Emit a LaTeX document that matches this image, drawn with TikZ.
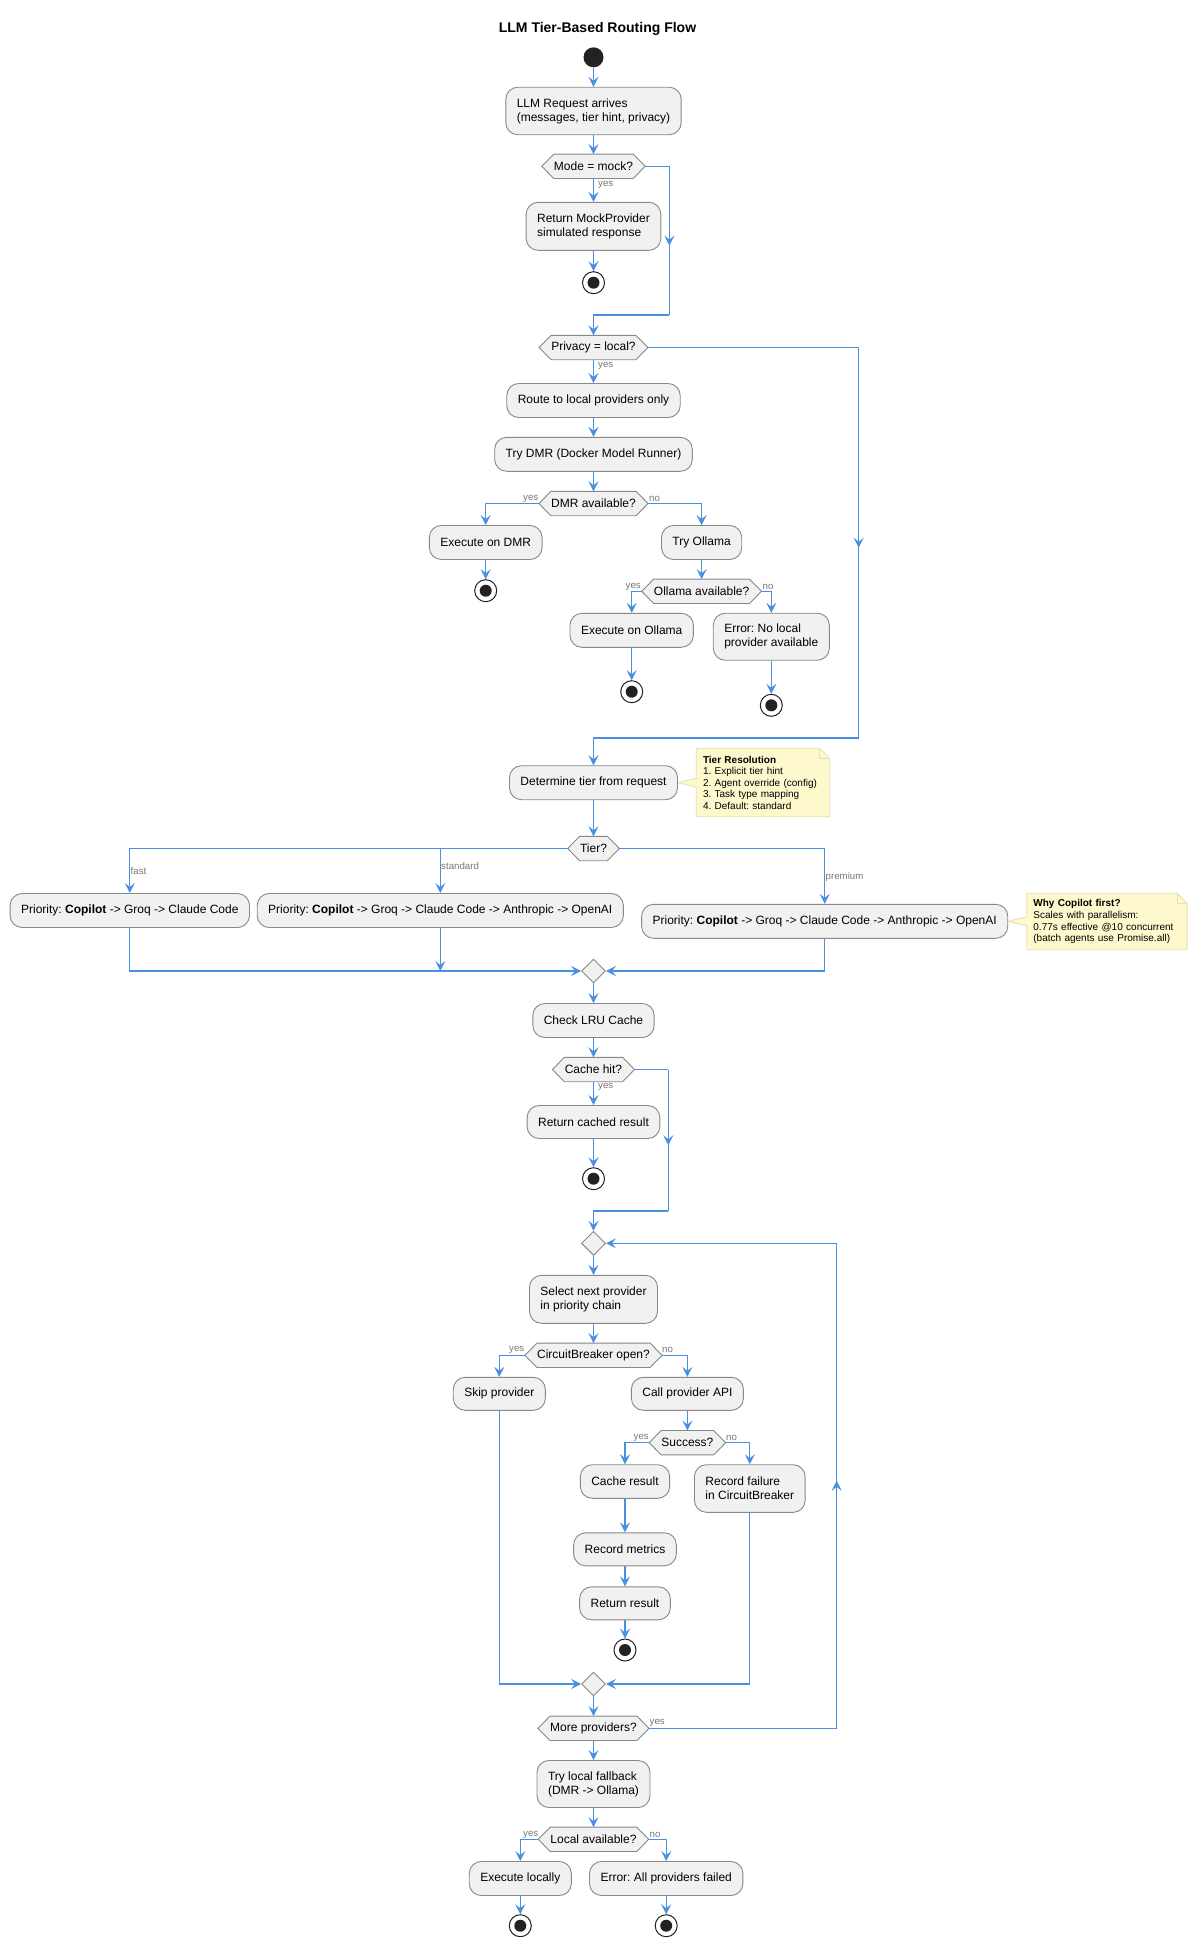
\documentclass[tikz,border=0pt]{standalone}
\usepackage{fontspec}
\setmainfont{Liberation Sans}
\usetikzlibrary{arrows.meta,shapes.geometric,backgrounds,decorations.markings,calc}
\frenchspacing
\definecolor{flowblue}{HTML}{4A90E2}
\definecolor{boxfill}{HTML}{F1F1F1}
\definecolor{boxline}{HTML}{888888}
\definecolor{darkdot}{HTML}{222222}
\definecolor{lblgray}{HTML}{777777}
\definecolor{notefill}{HTML}{FEF8CD}
\definecolor{noteline}{HTML}{E6DFAF}
\newcommand\fAct{\fontsize{12}{13.8}\selectfont}
\newcommand\fLbl{\fontsize{9.7}{11}\selectfont}
\newcommand\fNoteA{\fontsize{10}{11.5}\selectfont}
\newcommand\fNoteB{\fontsize{10}{11.9}\selectfont}
\newcommand\fTitle{\fontsize{14}{16}\selectfont\bfseries}
\newcommand\hexbg[1]{%
\begin{pgfonlayer}{background}
\path[draw=boxline, fill=boxfill, line width=0.9pt] (#1.west) -- ([xshift=12pt]#1.north west) -- ([xshift=-12pt]#1.north east) -- (#1.east) -- ([xshift=-12pt]#1.south east) -- ([xshift=12pt]#1.south west) -- cycle;
\end{pgfonlayer}}
\newcommand\notebg[2]{%
\begin{pgfonlayer}{background}
\path[draw=noteline, fill=notefill, line width=0.8pt] (#1.north west) -- ([xshift=-10pt]#1.north east) -- ([yshift=-10pt]#1.north east) -- (#1.south east) -- (#1.south west) -- ($(#1.west |- #2.east)+(0,4.5)$) -- (#2.east) -- ($(#1.west |- #2.east)+(0,-4.5)$) -- cycle;
\draw[noteline, line width=0.8pt] ([xshift=-10pt]#1.north east) -- ([xshift=-10pt,yshift=-10pt]#1.north east) -- ([yshift=-10pt]#1.north east);
\end{pgfonlayer}}
\begin{document}
\begin{tikzpicture}[x=1pt,y=-1pt,
  act/.style={draw=boxline, fill=boxfill, rounded corners=12pt, line width=0.9pt, font=\fAct, inner xsep=11pt, inner ysep=0pt, minimum height=34pt, align=left, text=black},
  dec/.style={inner xsep=12pt, inner ysep=0pt, minimum height=24pt, font=\fAct, text=black},
  mrg/.style={diamond, draw=boxline, fill=boxfill, minimum width=24pt, minimum height=24pt, inner sep=0pt, line width=0.9pt},
  startn/.style={circle, fill=darkdot, minimum size=20pt, inner sep=0pt},
  endn/.style={circle, draw=darkdot, fill=white, line width=1pt, minimum size=22pt, inner sep=0pt, path picture={\fill[darkdot] (path picture bounding box.center) circle (6pt);}},
  flow/.style={color=flowblue, line width=1.1pt},
  arr/.style={flow, -{Stealth[length=10pt,width=10pt,inset=4pt]}},
  midarr/.style={flow, postaction={decorate, decoration={markings, mark=at position 0.5 with {\arrow[xshift=5pt]{Stealth[length=10pt,width=10pt,inset=4pt]}}}}},
  lbl/.style={font=\fLbl, text=lblgray, inner sep=0pt},
  notetext/.style={anchor=north west, inner xsep=6.5pt, inner ysep=0pt, align=left, text width=#1, text=black}
]
\begin{pgfonlayer}{background}\fill[white] (0,0) rectangle (1197,1947);\end{pgfonlayer}
\useasboundingbox (0,0) rectangle (1197,1947);

\node[font=\fTitle] (title) at (597.5,29) {LLM Tier-Based Routing Flow};
\node[startn] (start) at (593.5,57.3) {};
\node[act, minimum width=175pt, minimum height=47.5pt] (req) at (593.5,111) {LLM Request arrives\\(messages, tier hint, privacy)};
\node[dec, minimum width=102.3pt] (mode) at (593.5,166.3) {Mode = mock?}; \hexbg{mode}
\node[act, minimum width=132pt, minimum height=48pt] (mock) at (593.5,226.3) {Return MockProvider\\simulated response};
\node[endn] (end1) at (593.5,282.7) {};
\coordinate (b1) at (669.4,315);
\node[dec, minimum width=108pt] (privacy) at (593.5,347.5) {Privacy = local?}; \hexbg{privacy}
\node[act, minimum width=172pt] (route) at (593.5,400.5) {Route to local providers only};
\node[act, minimum width=196pt] (dmr) at (593.5,454.3) {Try DMR (Docker Model Runner)};
\node[dec, minimum width=107.3pt] (dmrq) at (593.5,503.5) {DMR available?}; \hexbg{dmrq}
\node[act, minimum width=111pt] (exdmr) at (485.7,542.5) {Execute on DMR};
\node[endn] (end2) at (485.7,590.7) {};
\node[act, minimum width=78pt] (tryoll) at (701.6,542.5) {Try Ollama};
\node[dec, minimum width=118.7pt] (ollq) at (701.6,591.3) {Ollama available?}; \hexbg{ollq}
\node[act, minimum width=121pt] (exoll) at (631.7,630.3) {Execute on Ollama};
\node[endn] (end3) at (631.7,691.7) {};
\node[act, minimum width=114pt, minimum height=47pt] (errloc) at (771.3,636.7) {Error: No local\\provider available};
\node[endn] (end4) at (771.3,705.3) {};
\coordinate (b2) at (858.7,738);
\node[act, minimum width=165pt] (determine) at (593.5,782.7) {Determine tier from request};
\node[notetext=120pt, font=\fNoteA, minimum height=68pt] (note1) at (696.3,748.3) {\textbf{Tier Resolution}\\1. Explicit tier hint\\2. Agent override (config)\\3. Task type mapping\\4. Default: standard};
\notebg{note1}{determine}
\node[dec, minimum width=51.3pt] (tier) at (593.5,848.5) {Tier?}; \hexbg{tier}
\node[act, minimum width=237pt] (fast) at (129.8,910.5) {Priority: \textbf{Copilot} -> Groq -> Claude Code};
\node[act, minimum width=363pt] (standard) at (440.3,910.5) {Priority: \textbf{Copilot} -> Groq -> Claude Code -> Anthropic -> OpenAI};
\node[act, minimum width=364pt] (premium) at (824.7,921.3) {Priority: \textbf{Copilot} -> Groq -> Claude Code -> Anthropic -> OpenAI};
\node[notetext=147pt, font=\fNoteB, minimum height=56pt] (note2) at (1026.7,893.3) {\textbf{Why Copilot first?}\\Scales with parallelism:\\0.77s effective @10 concurrent\\(batch agents use Promise.all)};
\notebg{note2}{premium}
\node[mrg] (m1) at (593.5,971) {};
\node[act, minimum width=120pt] (lru) at (593.5,1020.5) {Check LRU Cache};
\node[dec, minimum width=81.7pt] (cacheq) at (593.5,1069.5) {Cache hit?}; \hexbg{cacheq}
\node[act, minimum width=130pt, minimum height=33pt] (cached) at (593.5,1122) {Return cached result};
\node[endn] (end5) at (593.5,1178.7) {};
\coordinate (b3) at (668.3,1211);
\node[mrg] (m2) at (593.5,1243.3) {};
\node[act, minimum width=126pt, minimum height=48pt] (select) at (593.5,1299.3) {Select next provider\\in priority chain};
\node[dec, minimum width=135pt] (cbq) at (593.5,1355.3) {CircuitBreaker open?}; \hexbg{cbq}
\node[act, minimum width=90pt, minimum height=33pt] (skip) at (499.3,1393.8) {Skip provider};
\node[act, minimum width=110pt, minimum height=33pt] (call) at (687.4,1393.8) {Call provider API};
\node[dec, minimum width=75pt] (succq) at (687.4,1442.7) {Success?}; \hexbg{succq}
\node[act, minimum width=86.6pt, minimum height=33.6pt] (cacheres) at (625,1481.5) {Cache result};
\node[act, minimum width=108.6pt, minimum height=47.6pt] (recfail) at (749.8,1488.5) {Record failure\\in CircuitBreaker};
\node[act, minimum width=101pt, minimum height=33pt] (metrics) at (625,1549.3) {Record metrics};
\node[act, minimum width=89pt, minimum height=33pt] (retres) at (625,1603.3) {Return result};
\node[endn] (end6) at (625,1650) {};
\node[mrg] (m3) at (593.5,1684) {};
\node[dec, minimum width=110pt] (moreq) at (593.5,1728.3) {More providers?}; \hexbg{moreq}
\coordinate (b4) at (836.7,1728.3);
\node[act, minimum width=111pt, minimum height=47pt] (fallback) at (593.5,1784) {Try local fallback\\(DMR -> Ollama)};
\node[dec, minimum width=109pt] (localq) at (593.5,1839.3) {Local available?}; \hexbg{localq}
\node[act, minimum width=100pt] (exloc) at (520.3,1878.5) {Execute locally};
\node[act, minimum width=152pt] (errall) at (666.2,1878.5) {Error: All providers failed};
\node[endn] (end7) at (520.3,1925.7) {};
\node[endn] (end8) at (666.2,1925.7) {};

% connectors
\draw[arr] (start.south) -- (req.north);
\draw[arr] (req.south) -- (mode.north);
\draw[arr] (mode.south) -- (mock.north);
\draw[arr] (mock.south) -- (end1.north);
\draw[flow] (mode.east) -- (mode.east -| b1);
\draw[midarr] (mode.east -| b1) -- (b1);
\draw[arr] (b1) -| (privacy.north);
\draw[arr] (privacy.south) -- (route.north);
\draw[arr] (route.south) -- (dmr.north);
\draw[arr] (dmr.south) -- (dmrq.north);
\draw[arr] (dmrq.west) -| (exdmr.north);
\draw[arr] (exdmr.south) -- (end2.north);
\draw[arr] (dmrq.east) -| (tryoll.north);
\draw[arr] (tryoll.south) -- (ollq.north);
\draw[arr] (ollq.west) -| (exoll.north);
\draw[arr] (exoll.south) -- (end3.north);
\draw[arr] (ollq.east) -| (errloc.north);
\draw[arr] (errloc.south) -- (end4.north);
\draw[flow] (privacy.east) -- (privacy.east -| b2);
\draw[midarr] (privacy.east -| b2) -- (b2);
\draw[arr] (b2) -| (determine.north);
\draw[arr] (determine.south) -- (tier.north);
\draw[arr] (tier.west) -| (fast.north);
\draw[arr] (tier.west -| standard.north) -- (standard.north);
\draw[arr] (tier.east) -| (premium.north);
\draw[arr] (fast.south) |- (m1.west);
\draw[arr] (standard.south) -- (standard.south |- m1.west);
\draw[arr] (premium.south) |- (m1.east);
\draw[arr] (m1.south) -- (lru.north);
\draw[arr] (lru.south) -- (cacheq.north);
\draw[arr] (cacheq.south) -- (cached.north);
\draw[arr] (cached.south) -- (end5.north);
\draw[flow] (cacheq.east) -- (cacheq.east -| b3);
\draw[midarr] (cacheq.east -| b3) -- (b3);
\draw[arr] (b3) -| (m2.north);
\draw[arr] (m2.south) -- (select.north);
\draw[arr] (select.south) -- (cbq.north);
\draw[arr] (cbq.west) -| (skip.north);
\draw[arr] (cbq.east) -| (call.north);
\draw[arr] (call.south) -- (succq.north);
\draw[arr] (succq.west) -| (cacheres.north);
\draw[arr] (succq.east) -| (recfail.north);
\draw[arr] (cacheres.south) -- (metrics.north);
\draw[arr] (metrics.south) -- (retres.north);
\draw[arr] (retres.south) -- (end6.north);
\draw[arr] (skip.south) |- (m3.west);
\draw[arr] (recfail.south) |- (m3.east);
\draw[arr] (m3.south) -- (moreq.north);
\draw[flow] (moreq.east) -- (b4);
\draw[midarr] (b4) -- (b4 |- m2.east);
\draw[arr] (b4 |- m2.east) -- (m2.east);
\draw[arr] (moreq.south) -- (fallback.north);
\draw[arr] (fallback.south) -- (localq.north);
\draw[arr] (localq.west) -| (exloc.north);
\draw[arr] (localq.east) -| (errall.north);
\draw[arr] (exloc.south) -- (end7.north);
\draw[arr] (errall.south) -- (end8.north);

% labels
\node[lbl, anchor=west] (l1) at (598,185) {yes};
\node[lbl, anchor=west] (l2) at (598,366) {yes};
\node[lbl, anchor=east] (l3) at (538.5,498.5) {yes};
\node[lbl, anchor=west] (l4) at (649,498.5) {no};
\node[lbl, anchor=east] (l5) at (641,586.5) {yes};
\node[lbl, anchor=west] (l6) at (762.5,586.5) {no};
\node[lbl, anchor=west] (l7) at (130.5,870.7) {fast};
\node[lbl, anchor=west] (l8) at (441,865.7) {standard};
\node[lbl, anchor=west] (l9) at (825.5,876.7) {premium};
\node[lbl, anchor=west] (l10) at (598,1087) {yes};
\node[lbl, anchor=east] (l11) at (524.5,1350) {yes};
\node[lbl, anchor=west] (l12) at (662,1350) {no};
\node[lbl, anchor=east] (l13) at (649,1438) {yes};
\node[lbl, anchor=west] (l14) at (726,1438) {no};
\node[lbl, anchor=west] (l15) at (649.5,1723) {yes};
\node[lbl, anchor=east] (l16) at (538.5,1835) {yes};
\node[lbl, anchor=west] (l17) at (649.5,1835) {no};
\end{tikzpicture}
\end{document}
